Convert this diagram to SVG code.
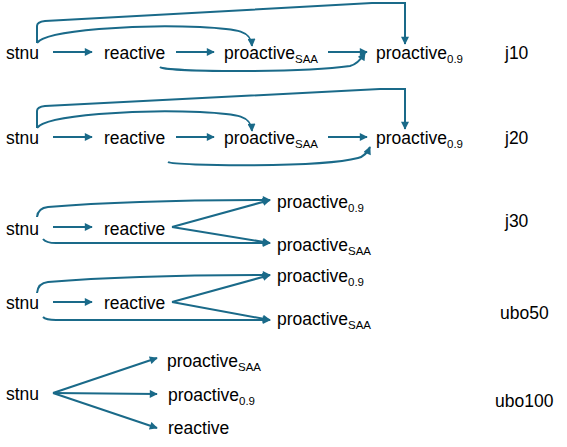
<svg xmlns="http://www.w3.org/2000/svg" width="567" height="447" viewBox="0 0 567 447">
<style>
text{font-family:"Liberation Sans",Arial,sans-serif;font-size:17.5px;fill:#000}
.sub{font-size:11.5px}
.e{fill:none;stroke:#1A6A89;stroke-width:2;marker-end:url(#ah)}
</style>
<defs>
<marker id="ah" viewBox="0 0 10 10" refX="9" refY="5" markerWidth="9" markerHeight="8" markerUnits="userSpaceOnUse" orient="auto">
<path d="M0 0L10 5L0 10z" fill="#1A6A89"/>
</marker>
</defs>
<rect width="567" height="447" fill="#fff"/>
<g id="connectors">
<!-- j10 -->
<path class="e" d="M53 52H92"/>
<path class="e" d="M176 52H214"/>
<path class="e" d="M328 52H367"/>
<path class="e" d="M37 43C45 30 140 24 200 27C240 29 251 31 252 46"/>
<path class="e" d="M37 43V26Q37 22 45 21L372 3H405V44"/>
<path class="e" d="M160 67C165 72 300 73 350 66Q358 64 365 53"/>
<!-- j20 -->
<path class="e" d="M53 137H92"/>
<path class="e" d="M176 137H214"/>
<path class="e" d="M328 137H367"/>
<path class="e" d="M37 128C45 115 140 109 200 112C240 114 251 116 252 131"/>
<path class="e" d="M37 128V111Q37 107 45 106L380 89H405V129"/>
<path class="e" d="M168 162C175 166 320 168 358 158Q366 156 370 147"/>
<!-- j30 -->
<path class="e" d="M53 227H92"/>
<path class="e" d="M172 227L270 200"/>
<path class="e" d="M172 227L270 243"/>
<path class="e" d="M37 217Q38 208 48 207C120 201 200 200 270 200"/>
<path class="e" d="M43 239Q46 243 56 243L270 243"/>
<!-- ubo50 -->
<path class="e" d="M53 302H92"/>
<path class="e" d="M172 302L270 275"/>
<path class="e" d="M172 302L270 320"/>
<path class="e" d="M37 293Q38 283 48 282C120 276 200 275 270 275"/>
<path class="e" d="M43 317Q46 320 56 320L270 320"/>
<!-- ubo100 -->
<path class="e" d="M53 393L157 358"/>
<path class="e" d="M53 393L157 394"/>
<path class="e" d="M53 393L157 428"/>
</g>
<g id="j10-stnu"><text x="6" y="59">stnu</text></g>
<g id="j10-reactive"><text x="104" y="59">reactive</text></g>
<g id="j10-proactiveSAA"><text x="224" y="59">proactive<tspan class="sub" dy="4">SAA</tspan></text></g>
<g id="j10-proactive09"><text x="376" y="59">proactive<tspan class="sub" dy="4">0.9</tspan></text></g>
<g id="label-j10"><text x="505" y="59">j10</text></g>

<g id="j20-stnu"><text x="6" y="144">stnu</text></g>
<g id="j20-reactive"><text x="104" y="144">reactive</text></g>
<g id="j20-proactiveSAA"><text x="224" y="144">proactive<tspan class="sub" dy="4">SAA</tspan></text></g>
<g id="j20-proactive09"><text x="376" y="144">proactive<tspan class="sub" dy="4">0.9</tspan></text></g>
<g id="label-j20"><text x="505" y="144">j20</text></g>

<g id="j30-stnu"><text x="6" y="235">stnu</text></g>
<g id="j30-reactive"><text x="104" y="235">reactive</text></g>
<g id="j30-proactive09"><text x="277" y="208">proactive<tspan class="sub" dy="4">0.9</tspan></text></g>
<g id="j30-proactiveSAA"><text x="277" y="251">proactive<tspan class="sub" dy="4">SAA</tspan></text></g>
<g id="label-j30"><text x="505" y="227">j30</text></g>

<g id="ubo50-stnu"><text x="6" y="309">stnu</text></g>
<g id="ubo50-reactive"><text x="104" y="309">reactive</text></g>
<g id="ubo50-proactive09"><text x="277" y="282">proactive<tspan class="sub" dy="4">0.9</tspan></text></g>
<g id="ubo50-proactiveSAA"><text x="277" y="325">proactive<tspan class="sub" dy="4">SAA</tspan></text></g>
<g id="label-ubo50"><text x="500" y="319">ubo50</text></g>

<g id="ubo100-stnu"><text x="6" y="400">stnu</text></g>
<g id="ubo100-proactiveSAA"><text x="167" y="367">proactive<tspan class="sub" dy="4">SAA</tspan></text></g>
<g id="ubo100-proactive09"><text x="168" y="401">proactive<tspan class="sub" dy="4">0.9</tspan></text></g>
<g id="ubo100-reactive"><text x="168" y="434">reactive</text></g>
<g id="label-ubo100"><text x="495" y="407">ubo100</text></g>
</svg>
